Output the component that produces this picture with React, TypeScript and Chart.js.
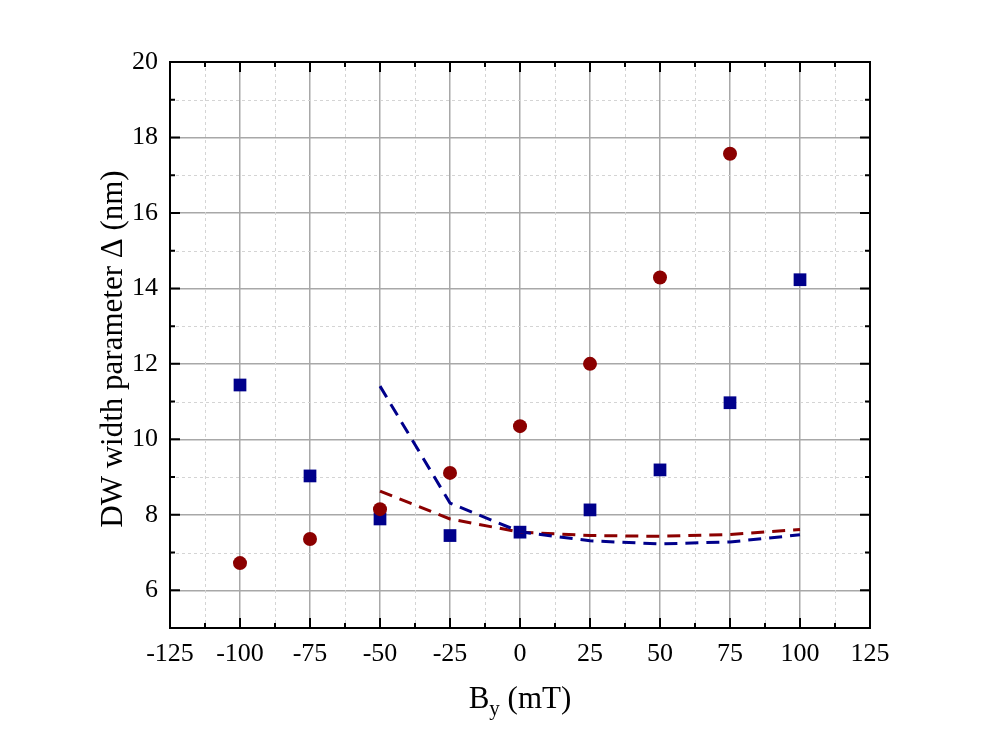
import React, { useEffect, useRef } from "react";
import { Chart, registerables } from "chart.js";

Chart.register(...registerables);

const fieldValues = [-100, -75, -50, -25, 0, 25, 50, 75, 100];
const circleWidths = [6.72, 7.36, 8.15, 9.11, 10.35, 12.0, 14.29, 17.57];
const squareWidths = [11.44, 9.03, 7.89, 7.45, 7.54, 8.13, 9.19, 10.97, 14.23];
const fitField = [-50, -25, 0, 25, 50, 75, 100];
const blueFit = [11.41, 8.31, 7.55, 7.31, 7.23, 7.28, 7.47];
const redFit = [8.63, 7.89, 7.54, 7.45, 7.43, 7.48, 7.61];

const RED = "#8b0000";
const BLUE = "#00008b";
const SERIF = "'Liberation Serif', 'Times New Roman', serif";

const pts = (xs: number[], ys: number[]) => ys.map((y, i) => ({ x: xs[i], y }));

const framePlugin = {
  id: "frame",
  beforeDatasetsDraw(chart: any) {
    const { ctx, chartArea: a, scales } = chart;
    const x = scales.x;
    const y = scales.y;
    ctx.save();
    ctx.strokeStyle = "#d4d4d4";
    ctx.lineWidth = 1;
    ctx.setLineDash([3, 3]);
    for (let v = -112.5; v < 125; v += 25) {
      const px = Math.round(x.getPixelForValue(v)) + 0.5;
      ctx.beginPath();
      ctx.moveTo(px, a.top);
      ctx.lineTo(px, a.bottom);
      ctx.stroke();
    }
    for (let v = 7; v < 20; v += 2) {
      const py = Math.round(y.getPixelForValue(v)) + 0.5;
      ctx.beginPath();
      ctx.moveTo(a.left, py);
      ctx.lineTo(a.right, py);
      ctx.stroke();
    }
    ctx.restore();
  },
  afterDraw(chart: any) {
    const { ctx, chartArea: a, scales } = chart;
    const x = scales.x;
    const y = scales.y;
    ctx.save();
    ctx.strokeStyle = "#000";
    ctx.lineWidth = 2;
    ctx.setLineDash([]);
    ctx.strokeRect(a.left, a.top, a.right - a.left, a.bottom - a.top);
    ctx.beginPath();
    for (let v = -112.5; v < 125; v += 12.5) {
      const px = x.getPixelForValue(v);
      const len = Math.abs(v % 25) < 0.01 ? 10 : 5;
      ctx.moveTo(px, a.bottom);
      ctx.lineTo(px, a.bottom - len);
      ctx.moveTo(px, a.top);
      ctx.lineTo(px, a.top + len);
    }
    for (let v = 6; v < 20; v += 1) {
      const py = y.getPixelForValue(v);
      const len = v % 2 === 0 ? 10 : 5;
      ctx.moveTo(a.left, py);
      ctx.lineTo(a.left + len, py);
      ctx.moveTo(a.right, py);
      ctx.lineTo(a.right - len, py);
    }
    ctx.stroke();

    // axis titles
    ctx.fillStyle = "#000";
    ctx.textBaseline = "alphabetic";
    const big = `31px ${SERIF}`;
    const small = `21px ${SERIF}`;
    ctx.font = big;
    const wB = ctx.measureText("B").width;
    const wRest = ctx.measureText(" (mT)").width;
    ctx.font = small;
    const wy = ctx.measureText("y").width;
    const cx = (a.left + a.right) / 2;
    let tx = cx - (wB + wy + wRest) / 2;
    const base = 708;
    ctx.textAlign = "left";
    ctx.font = big;
    ctx.fillText("B", tx, base);
    tx += wB;
    ctx.font = small;
    ctx.fillText("y", tx, base + 7);
    tx += wy;
    ctx.font = big;
    ctx.fillText(" (mT)", tx, base);

    ctx.translate(122, (a.top + a.bottom) / 2 + 4);
    ctx.rotate(-Math.PI / 2);
    ctx.textAlign = "center";
    ctx.font = big;
    ctx.fillText("DW width parameter \u0394 (nm)", 0, 0);
    ctx.restore();
  },
};

export default function App() {
  const canvasRef = useRef<HTMLCanvasElement | null>(null);
  const chartRef = useRef<Chart | null>(null);

  useEffect(() => {
    const ctx = canvasRef.current?.getContext("2d");
    if (!ctx) return;
    if (chartRef.current) chartRef.current.destroy();

    chartRef.current = new Chart(ctx, {
      type: "scatter",
      data: {
        datasets: [
          {
            label: "circles",
            data: pts(fieldValues, circleWidths),
            pointStyle: "circle",
            pointRadius: 7,
            backgroundColor: RED,
            borderColor: RED,
            borderWidth: 0,
            order: 2,
          },
          {
            label: "squares",
            data: pts(fieldValues, squareWidths),
            pointStyle: "rect",
            pointRadius: 9,
            backgroundColor: BLUE,
            borderColor: BLUE,
            borderWidth: 0,
            order: 2,
          },
          {
            label: "blue fit",
            data: pts(fitField, blueFit),
            showLine: true,
            pointRadius: 0,
            borderColor: BLUE,
            borderWidth: 3,
            borderDash: [13, 8],
            order: 1,
          },
          {
            label: "red fit",
            data: pts(fitField, redFit),
            showLine: true,
            pointRadius: 0,
            borderColor: RED,
            borderWidth: 3,
            borderDash: [13, 8],
            order: 1,
          },
        ],
      },
      options: {
        responsive: false,
        animation: false,
        devicePixelRatio: 1,
        layout: { padding: { left: 0, top: 62, right: 130, bottom: 0 } },
        plugins: {
          legend: { display: false },
          tooltip: { enabled: false },
        },
        scales: {
          x: {
            type: "linear",
            min: -125,
            max: 125,
            afterFit: (s: any) => {
              s.height = 116;
            },
            ticks: {
              stepSize: 25,
              color: "#000",
              padding: 11,
              maxRotation: 0,
              font: { family: SERIF, size: 26 },
            },
            grid: { color: "#a8a8a8", lineWidth: 1.5, drawTicks: false },
            border: { display: false },
          },
          y: {
            type: "linear",
            min: 5,
            max: 20,
            afterFit: (s: any) => {
              s.width = 170;
            },
            ticks: {
              stepSize: 2,
              color: "#000",
              padding: 12,
              font: { family: SERIF, size: 26 },
              callback: (v: any) => (Number(v) % 2 === 0 ? String(v) : null),
            },
            grid: { color: "#a8a8a8", lineWidth: 1.5, drawTicks: false },
            border: { display: false },
          },
        },
      },
      plugins: [framePlugin],
    });

    return () => {
      if (chartRef.current) {
        chartRef.current.destroy();
        chartRef.current = null;
      }
    };
  }, []);

  return (
    <div style={{ position: "absolute", left: 0, top: 0, width: 1000, height: 744, background: "#fff" }}>
      <canvas ref={canvasRef} width={1000} height={744}></canvas>
    </div>
  );
}
